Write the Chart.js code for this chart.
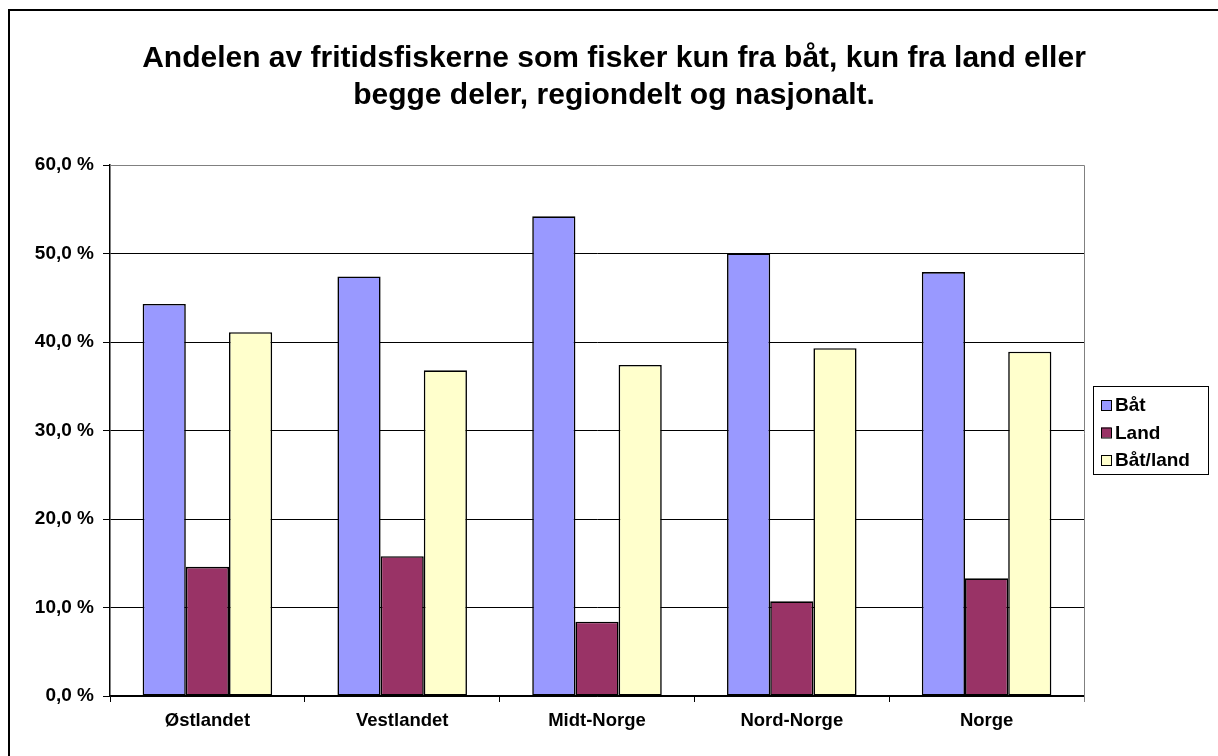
<!DOCTYPE html>
<html lang="no">
<head>
<meta charset="utf-8">
<title>Fritidsfiske – båt/land</title>
<script src="https://cdn.jsdelivr.net/npm/chart.js@4.4.1/dist/chart.umd.min.js"></script>
<style>
    html, body { margin: 0; padding: 0; background: #fff; }
    #wrap { width: 1218px; height: 756px; }
</style>
</head>
<body>
<div id="wrap"><canvas id="fiske-chart" width="1218" height="756"></canvas></div>
<script>
// Data lest av fra originalfiguren (prosent)
const titleLines = [
    'Andelen av fritidsfiskerne som fisker kun fra båt, kun fra land eller',
    'begge deler, regiondelt og nasjonalt.'
];
const categories = ['Østlandet', 'Vestlandet', 'Midt-Norge', 'Nord-Norge', 'Norge'];
const seriesNames = ['Båt', 'Land', 'Båt/land'];
const baat = [44.3, 47.4, 54.2, 50.0, 47.9];
const land = [14.6, 15.8, 8.4, 10.7, 13.3];
const baatLand = [41.1, 36.8, 37.4, 39.3, 38.9];
const yTicks = [0, 10, 20, 30, 40, 50, 60];

const FONT = '"Liberation Sans", Arial, sans-serif';

function pct(v) {
    return v.toFixed(1).replace('.', ',') + ' %';
}

// Bakgrunn, ramme, tittel og forklaring
const decorPlugin = {
    id: 'decor',
    beforeDraw(chart) {
        const ctx = chart.ctx;
        ctx.save();
        ctx.fillStyle = '#fff';
        ctx.fillRect(0, 0, chart.width, chart.height);
        ctx.strokeStyle = '#000';
        ctx.lineWidth = 2;
        ctx.strokeRect(9, 10, chart.width + 20, chart.height + 20);
        ctx.restore();
    },
    afterDraw(chart) {
        const ctx = chart.ctx;
        const a = chart.chartArea;
        ctx.save();

        // grå ramme øverst og til høyre i plottet
        ctx.strokeStyle = '#808080';
        ctx.lineWidth = 1;
        ctx.beginPath();
        ctx.moveTo(a.left, a.top + 0.5);
        ctx.lineTo(a.right + 0.5, a.top + 0.5);
        ctx.lineTo(a.right + 0.5, a.bottom + 6);
        ctx.stroke();

        // tittel
        ctx.fillStyle = '#000';
        ctx.font = 'bold 30px ' + FONT;
        ctx.textAlign = 'center';
        ctx.textBaseline = 'alphabetic';
        ctx.fillText(titleLines[0], 614, 67);
        ctx.fillText(titleLines[1], 614, 104);

        // forklaring
        const lx = 1093, ly = 386, lw = 115, lh = 88;
        ctx.strokeStyle = '#000';
        ctx.lineWidth = 1;
        ctx.strokeRect(lx + 0.5, ly + 0.5, lw, lh);
        ctx.font = 'bold 19px ' + FONT;
        ctx.textAlign = 'left';
        ctx.textBaseline = 'middle';
        chart.data.datasets.forEach((ds, i) => {
            const cy = ly + 19 + i * 27.5;
            ctx.fillStyle = ds.backgroundColor;
            ctx.fillRect(lx + 8, cy - 5, 10, 10);
            ctx.strokeStyle = '#000';
            ctx.strokeRect(lx + 8.5, cy - 4.5, 10, 10);
            ctx.fillStyle = '#000';
            ctx.fillText(ds.label, lx + 22, cy + 1);
        });
        ctx.restore();
    }
};

function makeDataset(label, data, color) {
    return {
        label: label,
        data: data,
        backgroundColor: color,
        borderColor: '#000',
        borderWidth: 1.6,
        borderSkipped: false,
        categoryPercentage: 0.665,
        barPercentage: 1.0
    };
}

const ctx = document.getElementById('fiske-chart').getContext('2d');
const fiskeChart = new Chart(ctx, {
    type: 'bar',
    data: {
        labels: categories,
        datasets: [
            makeDataset(seriesNames[0], baat, '#9999FF'),
            makeDataset(seriesNames[1], land, '#993366'),
            makeDataset(seriesNames[2], baatLand, '#FFFFCC')
        ]
    },
    options: {
        responsive: false,
        animation: false,
        layout: {
            padding: { left: 10, right: 134, top: 165, bottom: 0 }
        },
        plugins: {
            legend: { display: false },
            title: { display: false },
            tooltip: { enabled: false }
        },
        scales: {
            x: {
                grid: {
                    display: true,
                    drawOnChartArea: false,
                    drawTicks: true,
                    tickLength: 6,
                    color: '#000',
                    offset: true
                },
                border: { color: '#000', width: 1.5 },
                ticks: {
                    color: '#000',
                    padding: 8,
                    font: { family: FONT, size: 18.5, weight: 'bold' }
                },
                afterFit(scale) { scale.height = 60; }
            },
            y: {
                min: 0,
                max: 60,
                afterBuildTicks(scale) {
                    scale.ticks = yTicks.map(v => ({ value: v }));
                },
                grid: {
                    color: (c) => (c.tick && c.tick.value === 60 ? '#808080' : '#000'),
                    tickLength: 7,
                    tickColor: '#000'
                },
                border: { color: '#000', width: 1.5 },
                ticks: {
                    color: '#000',
                    padding: 9,
                    font: { family: FONT, size: 19, weight: 'bold' },
                    callback: function(value) {
                        return pct(value);
                    }
                },
                afterFit(scale) { scale.width = 100; }
            }
        }
    },
    plugins: [decorPlugin]
});
</script>
</body>
</html>
